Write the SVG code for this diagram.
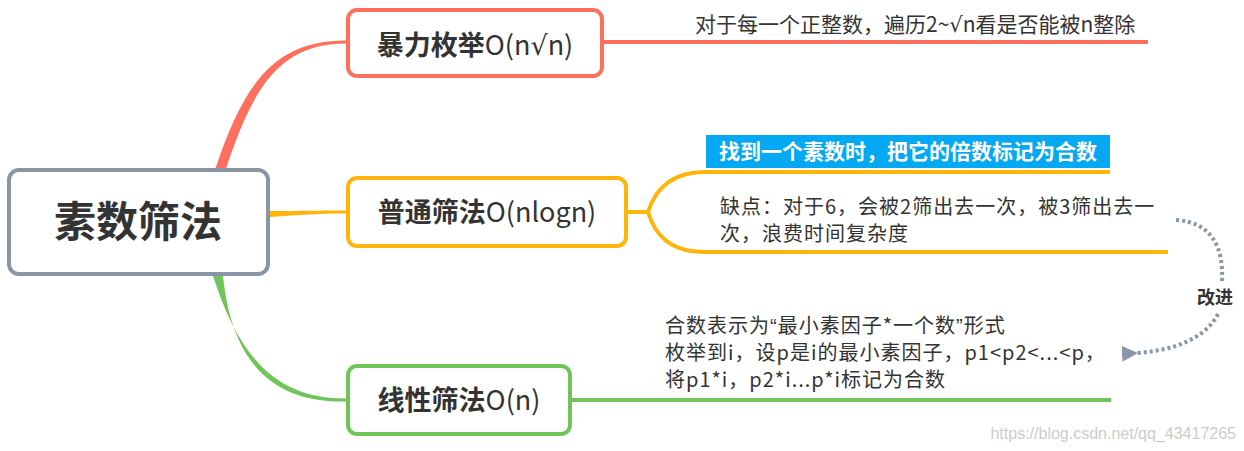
<svg xmlns="http://www.w3.org/2000/svg" width="1244" height="451" viewBox="0 0 1244 451">
<style>
.box{fill:#fff;stroke-width:4}
.t{font-family:"Noto Sans CJK SC","Microsoft YaHei",sans-serif;fill:#333}
.title{font-size:27px;font-weight:bold;text-anchor:middle}
.lat{font-weight:normal}
.note{font-size:21px}
.ml{font-size:20px;letter-spacing:1px}
.sq{font-family:"DejaVu Sans",sans-serif}
.q{font-family:"Liberation Sans",sans-serif}
</style>
<defs>
<marker id="ah" viewBox="0 0 16 16" refX="2" refY="8" markerWidth="16" markerHeight="16" markerUnits="userSpaceOnUse" orient="auto"><path d="M16,0 L0,8 L16,16 Z" fill="#8a96a8"/></marker>
</defs>
<g id="connectors">
<path d="M215,170 C245,78 278,40.5 346,40.5 L346,43.5 C282,44 254,82 225,172 Z" fill="#ff6f5e"/>
<path d="M270,211 C300,211 320,210.5 346,210.5 L346,213.5 C320,213.5 300,215 270,217 Z" fill="#ffb40a"/>
<path d="M213,276 C240,360 278,398.5 346,398.5 L346,401.5 C272,403 232,362 223,276 Z" fill="#70c55a"/>
<path d="M604,42 H1148" stroke="#ff6f5e" stroke-width="4" fill="none"/>
<path d="M628,212 H648 M705,172 C670,172 655,190 648,212 C655,235 670,252 705,252 M705,172 H1110 M705,252 H1168" stroke="#ffb40a" stroke-width="4" fill="none"/>
<path d="M572,400 H1111" stroke="#70c55a" stroke-width="4" fill="none"/>
<path d="M1176,220 C1210,222 1224,245 1222,282" stroke="#8a96a8" stroke-width="4" stroke-dasharray="3,3" fill="none"/>
<path d="M1218,314 C1205,340 1170,351 1136,353" stroke="#8a96a8" stroke-width="4" stroke-dasharray="3,3" fill="none" marker-end="url(#ah)"/>
</g>
<g id="root">
<rect class="box" x="9" y="170" width="259" height="104" rx="10" stroke="#8a96a6"/>
<text class="t" x="138" y="237" font-size="42" font-weight="bold" text-anchor="middle">素数筛法</text>
</g>
<g id="n1">
<rect class="box" x="348" y="10" width="254" height="66" rx="9" stroke="#ff6f5e"/>
<text class="t title" x="475" y="55">暴力枚举<tspan class="lat">O(n<tspan class="sq">√</tspan>n)</tspan></text>
</g>
<g id="n1note">
<text class="t note" x="695" y="32">对于每一个正整数，遍历2~<tspan class="sq">√</tspan>n看是否能被n整除</text>
</g>
<g id="n2">
<rect class="box" x="348" y="178" width="278" height="68" rx="9" stroke="#ffb40a"/>
<text class="t title" x="487" y="222">普通筛法<tspan class="lat">O(nlogn)</tspan></text>
</g>
<g id="n2label">
<rect x="706" y="135" width="404" height="33" fill="#05a8f3"/>
<text class="t" x="908" y="159" font-size="21" font-weight="bold" style="fill:#fff" text-anchor="middle">找到一个素数时，把它的倍数标记为合数</text>
</g>
<g id="n2note">
<text class="t ml" x="720" y="214">缺点：对于6，会被2筛出去一次，被3筛出去一</text>
<text class="t ml" x="720" y="241">次，浪费时间复杂度</text>
</g>
<g id="n3">
<rect class="box" x="348" y="366" width="222" height="68" rx="9" stroke="#70c55a"/>
<text class="t title" x="459" y="410">线性筛法<tspan class="lat">O(n)</tspan></text>
</g>
<g id="n3note">
<text class="t ml" x="665" y="333">合数表示为<tspan class="q">“</tspan>最小素因子*一个数<tspan class="q">”</tspan>形式</text>
<text class="t ml" x="665" y="360">枚举到i，设p是i的最小素因子，p1&lt;p2&lt;...&lt;p，</text>
<text class="t ml" x="665" y="387">将p1*i，p2*i...p*i标记为合数</text>
</g>
<g id="improve">
<text class="t" x="1215" y="304" font-size="18" font-weight="bold" text-anchor="middle">改进</text>
</g>
<text x="1236" y="439" font-family="Liberation Sans, sans-serif" font-size="16" fill="#cccccc" text-anchor="end">https://blog.csdn.net/qq_43417265</text>
</svg>
